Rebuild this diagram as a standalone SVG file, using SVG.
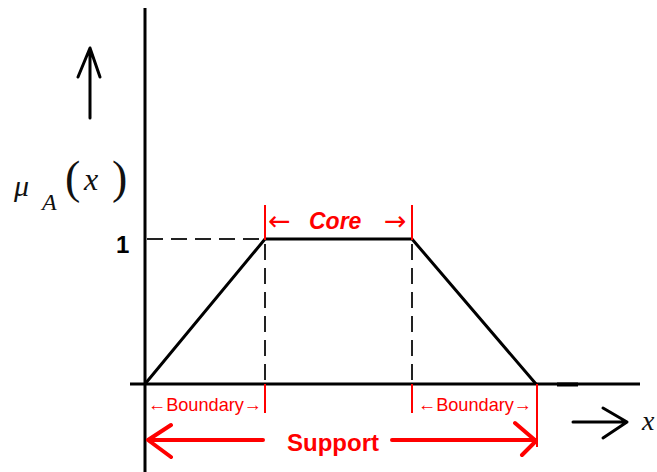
<svg xmlns="http://www.w3.org/2000/svg" width="657" height="472" viewBox="0 0 657 472">
  <style>
    .axis { stroke: #000; stroke-width: 3; fill: none; }
    .curve { stroke: #000; stroke-width: 3; fill: none; stroke-linejoin: miter; }
    .guide { stroke: #222; stroke-width: 2; stroke-dasharray: 16 8; fill: none; }
    .red { stroke: #ff0000; stroke-width: 2; fill: none; }
    .redthick { stroke: #ff0000; stroke-width: 4; fill: none; stroke-linecap: round; stroke-linejoin: round; }
    .blk { stroke: #000; stroke-width: 3; fill: none; stroke-linecap: round; stroke-linejoin: round; }
    .math { font-family: "Liberation Serif", "DejaVu Serif", serif; font-style: italic; fill: #111; }
    .paren { font-family: "Liberation Serif", "DejaVu Serif", serif; font-style: normal; font-weight: 300; fill: #111; }
    .lbl { font-family: "Liberation Sans", Arial, sans-serif; fill: #ff0000; }
    .arr { font-family: "DejaVu Sans", sans-serif; fill: #ff0000; }
  </style>

  <!-- axes -->
  <g id="axes">
    <line class="axis" x1="145" y1="8" x2="145" y2="472"/>
    <line class="axis" x1="130" y1="384" x2="640" y2="384"/>
    <line x1="557" y1="384.5" x2="578" y2="384.5" stroke="#000" stroke-width="4"/>
  </g>

  <!-- membership direction arrow and label -->
  <g id="mu-label">
    <path class="blk" d="M90 118 L90 48 M78 77 L90 48 L100 77"/>
    <text class="math" x="14" y="196" font-size="30">μ</text>
    <text class="math" x="42" y="210" font-size="24">A</text>
    <text class="paren" x="65" y="193" font-size="46">(</text>
    <text class="math" x="84" y="190" font-size="32">x</text>
    <text class="paren" x="112" y="193" font-size="46">)</text>
  </g>

  <!-- x direction arrow and label -->
  <g id="x-label">
    <path class="blk" d="M573 422 L627 422 M603 408 L627 422 L603 438"/>
    <text class="math" x="642" y="430" font-size="28">x</text>
  </g>

  <!-- tick value -->
  <g id="one">
    <text x="116" y="253" font-family="Liberation Sans, Arial, sans-serif" font-weight="bold" font-size="24" fill="#000">1</text>
  </g>

  <!-- trapezoidal membership function -->
  <g id="trapezoid">
    <line class="guide" x1="147" y1="239" x2="263" y2="239"/>
    <line class="guide" x1="265" y1="244" x2="265" y2="384"/>
    <line class="guide" x1="412" y1="244" x2="412" y2="384"/>
    <polyline class="curve" points="145,384 265,239 412,239 536,384"/>
  </g>

  <!-- core annotation -->
  <g id="core">
    <line class="red" x1="265" y1="205" x2="265" y2="240"/>
    <line class="red" x1="412" y1="205" x2="412" y2="240"/>
    <text class="arr" x="268" y="230" font-size="27">←</text>
    <text class="lbl" x="309" y="229" font-size="23" font-style="italic" font-weight="bold">Core</text>
    <text class="arr" x="384" y="230" font-size="27">→</text>
  </g>

  <!-- boundary annotations -->
  <g id="boundary-left">
    <line class="red" x1="265" y1="384" x2="265" y2="413"/>
    <text class="lbl" x="148" y="411" font-size="19" textLength="114" lengthAdjust="spacingAndGlyphs">←Boundary→</text>
  </g>
  <g id="boundary-right">
    <line class="red" x1="412" y1="384" x2="412" y2="413"/>
    <text class="lbl" x="418" y="411" font-size="19" textLength="114" lengthAdjust="spacingAndGlyphs">←Boundary→</text>
  </g>

  <!-- support annotation -->
  <g id="support">
    <line class="red" x1="537" y1="384" x2="537" y2="447"/>
    <path class="redthick" d="M263 440 L148 440 M171 425 L148 440 L171 457"/>
    <path class="redthick" d="M392 440 L536 440 M515 423 L536 441 L522 455"/>
    <text class="lbl" x="287" y="451" font-size="24" font-weight="bold">Support</text>
  </g>
</svg>
